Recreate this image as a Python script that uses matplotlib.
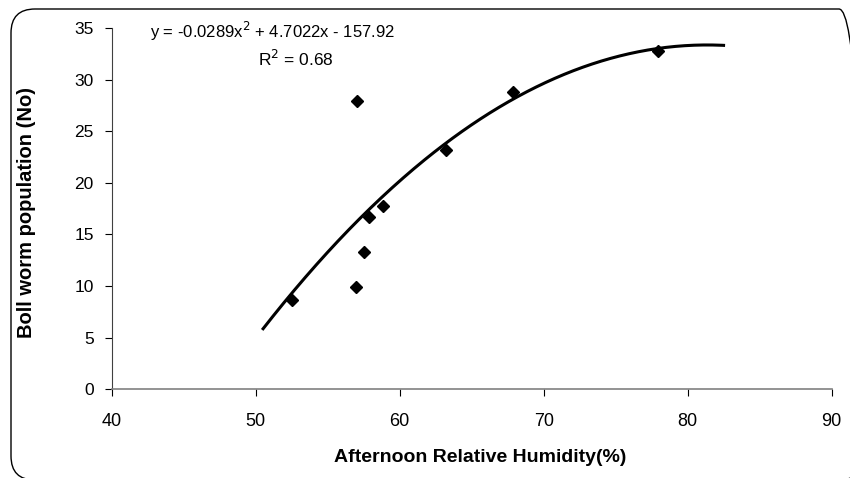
import matplotlib

matplotlib.use('Agg')
import matplotlib.pyplot as plt
import numpy as np
from matplotlib.patches import FancyBboxPatch
from matplotlib.transforms import IdentityTransform

plt.rcParams['font.family'] = ['Liberation Sans', 'DejaVu Sans']

humidity = [52.5, 56.95, 57.55, 57.9, 58.85, 57.05, 63.25, 67.9, 77.95]
bollworm = [8.65, 9.95, 13.3, 16.7, 17.8, 27.95, 23.2, 28.8, 32.8]

# trendline coefficients as printed on the chart
coeffs = [-0.0289, 4.7022, -157.92]
r_squared = 0.68
trend_range = (50.45, 82.6)

fig = plt.figure(figsize=(8.5, 4.78), dpi=100)
ax = fig.add_axes([0.1314, 0.1856, 0.847, 0.756])

# rounded frame around the whole chart (pixel coords, runs off right/bottom)
frame = FancyBboxPatch((11, -2), 852, 471,
                       boxstyle="round,pad=0,rounding_size=24",
                       transform=IdentityTransform(), fill=False,
                       edgecolor='black', linewidth=1.0, clip_on=False)
fig.patches.append(frame)

poly = np.poly1d(coeffs)
tx = np.linspace(trend_range[0], trend_range[1], 300)
ax.plot(tx, poly(tx), color='black', linewidth=2.2, solid_capstyle='butt')
ax.plot(humidity, bollworm, linestyle='none', marker='D', markersize=6,
        color='black')

ax.set_xlim(40, 90)
ax.set_ylim(0, 35)
ax.set_xticks(np.arange(40, 91, 10))
ax.set_yticks(np.arange(0, 36, 5))
ax.tick_params(axis='x', labelsize=13, length=5, width=0.8, pad=12)
ax.tick_params(axis='y', labelsize=12.5, length=5, width=0.8, pad=8)
for side in ['top', 'right']:
    ax.spines[side].set_visible(False)
ax.spines['left'].set_color('#404040')
ax.spines['bottom'].set_color('#808080')
ax.spines['bottom'].set_linewidth(1.2)

ax.set_xlabel("Afternoon Relative Humidity(%)", fontsize=14, fontweight='bold')
ax.set_ylabel("Boll worm population (No)", fontsize=14.5, fontweight='bold')
ax.xaxis.label.set_va('center')
ax.yaxis.label.set_va('center')
ax.xaxis.set_label_coords(0.512, -0.19)
ax.yaxis.set_label_coords(-0.118, 0.49)

fig.text(150 / 850, 1 - 31.5 / 478,
         f"y = {coeffs[0]}x$^2$ + {coeffs[1]}x - {abs(coeffs[2])}",
         fontsize=12, ha='left', va='center')
fig.text(258 / 850, 1 - 59 / 478, f"R$^2$ = {r_squared}",
         fontsize=12.5, ha='left', va='center')

plt.savefig('out.png', dpi=100)
